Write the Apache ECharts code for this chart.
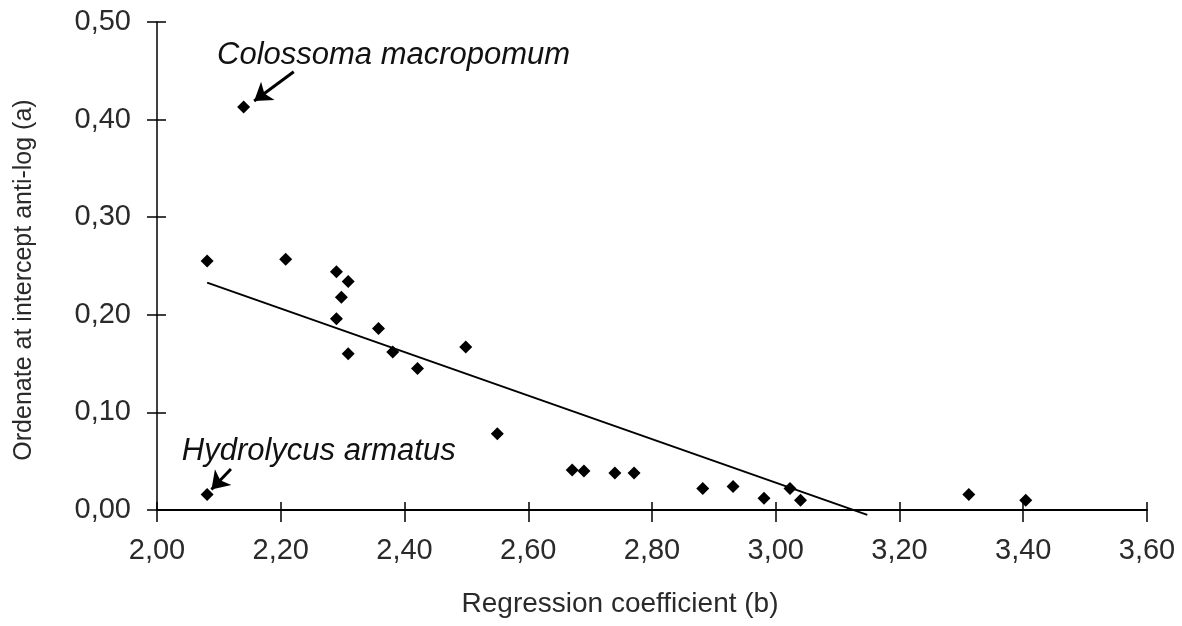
<!DOCTYPE html>
<html>
<head>
<meta charset="utf-8">
<script src="https://cdn.jsdelivr.net/npm/echarts@6/dist/echarts.min.js"></script>
<style>
  html, body { margin: 0; padding: 0; background: #fff; }
  #main { width: 1182px; height: 626px; }
</style>
</head>
<body>
<div id="main"></div>
<script>
// regression coefficient (b) vs ordenate at intercept anti-log (a)
var points = [
  [2.081, 0.255], [2.140, 0.413], [2.208, 0.257], [2.290, 0.244], [2.309, 0.234],
  [2.298, 0.218], [2.290, 0.196], [2.358, 0.186], [2.309, 0.160], [2.381, 0.162],
  [2.421, 0.145], [2.499, 0.167], [2.550, 0.078], [2.671, 0.041], [2.690, 0.040],
  [2.740, 0.038], [2.771, 0.038], [2.882, 0.022], [2.931, 0.024], [2.981, 0.012],
  [3.023, 0.022], [3.040, 0.010], [3.312, 0.016], [3.404, 0.010], [2.081, 0.016]
];
var fitLine = [[2.081, 0.233], [3.148, -0.005]];

var xTickLabels = ['2,00', '2,20', '2,40', '2,60', '2,80', '3,00', '3,20', '3,40', '3,60'];
var yTickLabels = ['0,00', '0,10', '0,20', '0,30', '0,40', '0,50'];

// species annotations: label anchor, arrow start, arrow end
var noteNames = ['Colossoma macropomum', 'Hydrolycus armatus'];
var noteAnchors = [[2.097, 0.466], [2.040, 0.060]];
var arrowFrom = [[2.221, 0.449], [2.1195, 0.042]];
var arrowTo = [[2.157, 0.419], [2.088, 0.021]];

var font = '"Liberation Sans", Arial, sans-serif';
var chart = echarts.init(document.getElementById('main'));

function xAxisBase(inside) {
  return {
    type: 'value', min: 2, max: 3.6, interval: 0.2, position: 'bottom',
    splitLine: {show: false},
    axisLine: {show: !inside, onZero: false, lineStyle: {color: '#000', width: 2}},
    axisTick: {show: true, inside: inside, length: inside ? 8 : 12, lineStyle: {color: '#000', width: 1.5}},
    axisLabel: {
      show: !inside, margin: 26, color: '#2a2a2a', fontFamily: font, fontSize: 29,
      formatter: function (v, i) { return xTickLabels[i]; }
    }
  };
}
function yAxisBase(inside) {
  return {
    type: 'value', min: 0, max: 0.5, interval: 0.1, position: 'left',
    splitLine: {show: false},
    axisLine: {show: !inside, onZero: false, lineStyle: {color: '#000', width: 1.5}},
    axisTick: {show: true, inside: inside, length: inside ? 9 : 10, lineStyle: {color: '#000', width: 1.5}},
    axisLabel: {
      show: !inside, margin: 26, color: '#2a2a2a', fontFamily: font, fontSize: 29,
      formatter: function (v, i) { return yTickLabels[i]; }
    }
  };
}

var xMain = xAxisBase(false);
xMain.name = 'Regression coefficient (b)';
xMain.nameLocation = 'middle';
xMain.nameGap = 80;
xMain.nameTextStyle = {color: '#2a2a2a', fontFamily: font, fontSize: 28, padding: [0, 64, 0, 0]};

var yMain = yAxisBase(false);
yMain.name = 'Ordenate at intercept anti-log (a)';
yMain.nameLocation = 'middle';
yMain.nameGap = 120;
yMain.nameTextStyle = {color: '#2a2a2a', fontFamily: font, fontSize: 25, padding: [0, 28, 0, 0]};

var arrows = arrowFrom.map(function (p, i) {
  return [{coord: p}, {coord: arrowTo[i]}];
});
var notes = noteNames.map(function (n, i) {
  return {
    coord: noteAnchors[i], name: n, symbolSize: 0,
    label: {
      show: true, position: [0, 0], align: 'left', verticalAlign: 'middle',
      formatter: n, fontStyle: 'italic', fontFamily: font, fontSize: 31, color: '#111'
    }
  };
});

chart.setOption({
  animation: false,
  backgroundColor: '#fff',
  grid: {left: 157, right: 35, top: 22, bottom: 116},
  xAxis: [xMain, xAxisBase(true)],
  yAxis: [yMain, yAxisBase(true)],
  series: [
    {
      type: 'line', data: fitLine, symbol: 'none', clip: false,
      lineStyle: {color: '#000', width: 2}, silent: true
    },
    {
      type: 'scatter', data: points, symbol: 'diamond', symbolSize: [13, 13],
      itemStyle: {color: '#000', opacity: 1}, clip: false,
      markLine: {
        silent: true, symbol: ['none', 'arrow'], symbolSize: 17,
        label: {show: false},
        lineStyle: {color: '#000', width: 3, type: 'solid', curveness: 0.2, opacity: 1},
        data: arrows
      },
      markPoint: {silent: true, symbol: 'circle', data: notes}
    }
  ]
});
</script>
</body>
</html>
